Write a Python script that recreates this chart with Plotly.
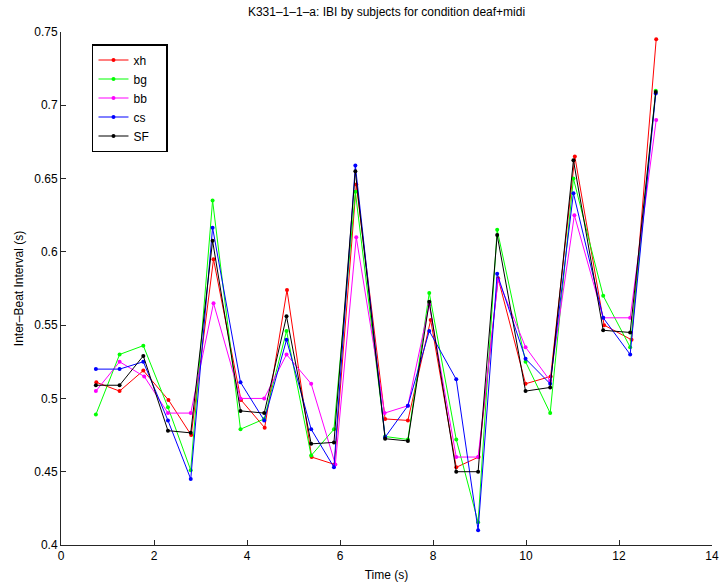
import plotly.graph_objects as go

# Beat times (s) for each subject
t_common = [0.75, 1.26, 1.77, 2.30, 2.79, 3.26, 3.86, 4.37, 4.85, 5.38, 5.87, 6.33,
            6.97, 7.46, 7.92, 8.50, 8.97, 9.38, 9.99, 10.52, 11.02, 11.66, 12.24, 12.79]
t_xh = [0.76, 1.26, 1.77, 2.31, 2.80, 3.28, 3.87, 4.38, 4.86, 5.39, 5.88, 6.35,
        6.97, 7.46, 7.95, 8.50, 8.98, 9.40, 9.99, 10.53, 11.05, 11.68, 12.27, 12.80]
t_bb = [0.75, 1.26, 1.79, 2.30, 2.79, 3.28, 3.86, 4.37, 4.85, 5.38, 5.90, 6.35,
        6.96, 7.46, 7.92, 8.50, 8.97, 9.40, 9.99, 10.52, 11.04, 11.66, 12.24, 12.80]

# Inter-beat intervals (s)
ibi_xh = [0.511, 0.505, 0.519, 0.499, 0.475, 0.595, 0.499, 0.480, 0.574, 0.460, 0.455, 0.646,
          0.486, 0.485, 0.5535, 0.453, 0.460, 0.582, 0.510, 0.515, 0.665, 0.550, 0.540, 0.745]
ibi_bg = [0.489, 0.530, 0.536, 0.494, 0.451, 0.635, 0.479, 0.486, 0.546, 0.461, 0.479, 0.641,
          0.474, 0.472, 0.572, 0.472, 0.4155, 0.615, 0.525, 0.490, 0.650, 0.570, 0.535, 0.710]
ibi_bb = [0.505, 0.525, 0.515, 0.490, 0.490, 0.565, 0.500, 0.500, 0.530, 0.510, 0.455, 0.610,
          0.490, 0.495, 0.564, 0.460, 0.460, 0.581, 0.535, 0.512, 0.625, 0.555, 0.555, 0.690]
ibi_cs = [0.520, 0.520, 0.525, 0.485, 0.445, 0.6165, 0.511, 0.485, 0.540, 0.479, 0.453, 0.659,
          0.4735, 0.495, 0.546, 0.513, 0.410, 0.585, 0.527, 0.510, 0.640, 0.555, 0.530, 0.708]
ibi_sf = [0.509, 0.509, 0.529, 0.478, 0.4765, 0.6075, 0.4915, 0.490, 0.556, 0.469, 0.470, 0.655,
          0.4725, 0.471, 0.566, 0.450, 0.450, 0.6115, 0.505, 0.5075, 0.6625, 0.5465, 0.545, 0.709]

series = [
    ("xh", t_xh, ibi_xh, "#ff0000"),
    ("bg", t_common, ibi_bg, "#00ff00"),
    ("bb", t_bb, ibi_bb, "#ff00ff"),
    ("cs", t_common, ibi_cs, "#0000ff"),
    ("SF", t_common, ibi_sf, "#000000"),
]

x_ticks = [0, 2, 4, 6, 8, 10, 12, 14]
y_ticks = [0.4, 0.45, 0.5, 0.55, 0.6, 0.65, 0.7, 0.75]
y_tick_text = ["0.4", "0.45", "0.5", "0.55", "0.6", "0.65", "0.7", "0.75"]

FONT = "Liberation Sans, Arial, Helvetica, sans-serif"

fig = go.Figure()
for name, t, v, c in series:
    fig.add_trace(go.Scatter(
        x=t, y=v, name=name + "\u2003", mode="lines+markers",
        line=dict(color=c, width=1),
        marker=dict(color=c, size=4, symbol="circle"),
    ))

fig.update_layout(
    width=722, height=585,
    margin=dict(l=61, r=10, t=32, b=40, autoexpand=False),
    paper_bgcolor="white", plot_bgcolor="white",
    font=dict(family=FONT, size=12, color="black"),
    title=dict(text="K331–1–1–a: IBI by subjects for condition deaf+midi",
               x=0.5, xanchor="center", xref="paper", y=1 - 12 / 585, yanchor="middle",
               font=dict(size=12, family=FONT, color="black")),
    showlegend=True,
    legend=dict(x=0.0476, y=0.9766, xanchor="left", yanchor="top",
                bgcolor="white", bordercolor="black", borderwidth=1.5,
                font=dict(size=12, family=FONT, color="black"),
                itemwidth=30, tracegroupgap=0),
)
fig.update_xaxes(
    range=[0, 14], tickvals=x_ticks, ticktext=[str(v) for v in x_ticks],
    ticks="inside", ticklen=5, tickcolor="#262626", showline=True, linecolor="#262626",
    linewidth=1, showgrid=False, zeroline=False, mirror=False, automargin=False,
    tickfont=dict(size=12, family=FONT, color="black"),
    title=dict(text="Time (s)", standoff=8, font=dict(size=12, family=FONT, color="black")),
)
fig.update_yaxes(
    range=[0.4, 0.75], tickvals=y_ticks, ticktext=y_tick_text,
    ticks="inside", ticklen=5, tickcolor="#262626", showline=True, linecolor="#262626",
    linewidth=1, showgrid=False, zeroline=False, mirror=False, automargin=False,
    tickfont=dict(size=12, family=FONT, color="black"),
    title=dict(text="Inter–Beat Interval (s)", standoff=8, font=dict(size=12, family=FONT, color="black")),
)

fig.write_html("out.html")
